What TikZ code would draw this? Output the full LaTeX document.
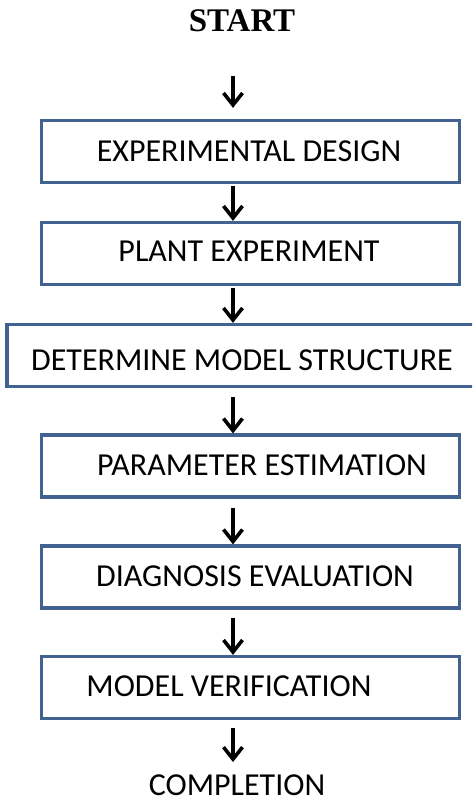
\documentclass[tikz,border=0pt]{standalone}
\usepackage{fontspec}
\setmainfont{Carlito}
\newfontfamily\titlefont{Liberation Serif}
\usetikzlibrary{arrows.meta}
\definecolor{boxblue}{RGB}{66,98,146}

\begin{document}
\begin{tikzpicture}[x=1pt, y=-1pt,
    stage box/.style={draw=boxblue, line width=3.2pt, minimum width=418pt, minimum height=62pt, inner sep=0pt},
    stage text/.style={anchor=base, inner sep=0pt, font=\fontsize{32}{34}\selectfont},
    flow/.style={line width=3.6pt, -{Straight Barb[length=12pt, width=19pt, line width=3.6pt]}}]
  \useasboundingbox (0,0) rectangle (472,802);
  \clip (0,0) rectangle (472,802);

  % process steps
  \node[stage box] at (250.5,151.5) (d1) {};
  \node[stage box] at (250.5,253.5) (d2) {};
  \node[stage box, minimum width=474pt] at (244,355.5) (d3) {};
  \node[stage box] at (250.5,466) (d4) {};
  \node[stage box] at (250.5,577) (d5) {};
  \node[stage box] at (250.5,687.5) (d6) {};

  \node[stage text] at (249,161.5) (t1) {EXPERIMENTAL DESIGN};
  \node[stage text] at (249,261.5) (t2) {PLANT EXPERIMENT};
  \node[stage text] at (242,370) (t3) {DETERMINE MODEL STRUCTURE};
  \node[stage text] at (262,475) (t4) {PARAMETER ESTIMATION};
  \node[stage text] at (255,586.5) (t5) {DIAGNOSIS EVALUATION};
  \node[stage text] at (229,696.5) (t6) {MODEL VERIFICATION};

  \node[anchor=base, inner sep=0pt, font=\titlefont\bfseries\fontsize{33}{35}\selectfont] at (242,32) (start) {START};
  \node[stage text] at (237,795) (done) {COMPLETION};

  % arrows all on one line
  \coordinate (spine) at (233,0);
  \draw[flow, shorten <=43pt, shorten >=11pt] (start.south -| spine) -- (d1.north -| spine);
  \draw[flow, shorten <=2pt] (d1.south -| spine) -- (d2.north -| spine);
  \draw[flow, shorten <=2pt] (d2.south -| spine) -- (d3.north -| spine);
  \draw[flow, shorten <=9pt] (d3.south -| spine) -- (d4.north -| spine);
  \draw[flow, shorten <=9pt] (d4.south -| spine) -- (d5.north -| spine);
  \draw[flow, shorten <=8pt] (d5.south -| spine) -- (d6.north -| spine);
  \draw[flow, shorten <=8pt, shorten >=12pt] (d6.south -| spine) -- (done.north -| spine);
\end{tikzpicture}
\end{document}
